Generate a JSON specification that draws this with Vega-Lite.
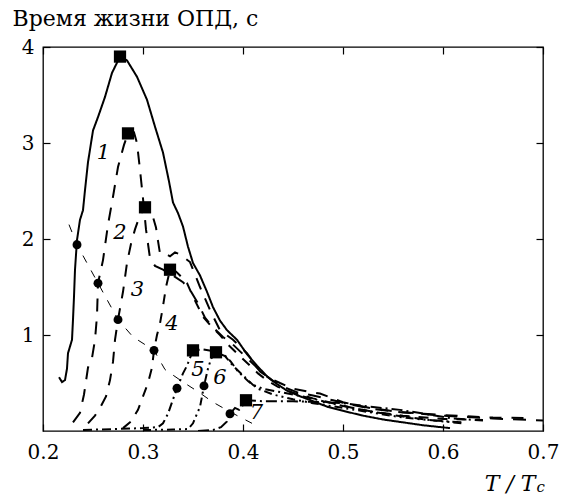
{
  "$schema": "https://vega.github.io/schema/vega-lite/v6.json",
  "width": 500,
  "height": 384,
  "autosize": "none",
  "padding": {"left": 43, "top": 47, "right": 24, "bottom": 66},
  "background": "white",
  "config": {
    "view": {"stroke": "black", "strokeWidth": 1.3},
    "axis": {
      "domain": false, "grid": false, "tickColor": "black", "tickWidth": 1.2, "tickSize": -7,
      "labelFont": "DejaVu Serif", "labelFontSize": 20, "labelColor": "black", "labelFlush": false,
      "titleFont": "DejaVu Serif", "titleColor": "black", "titleFontWeight": "normal"
    }
  },
  "datasets": {
    "curves": [
      {"curve":"1","i":1,"x":0.216,"y":0.56},{"curve":"1","i":2,"x":0.219,"y":0.51},{"curve":"1","i":3,"x":0.222,"y":0.53},{"curve":"1","i":4,"x":0.224,"y":0.65},{"curve":"1","i":5,"x":0.225,"y":0.81},{"curve":"1","i":6,"x":0.229,"y":0.95},{"curve":"1","i":7,"x":0.230,"y":1.16},{"curve":"1","i":8,"x":0.231,"y":1.4},{"curve":"1","i":9,"x":0.232,"y":1.68},{"curve":"1","i":10,"x":0.234,"y":1.99},{"curve":"1","i":11,"x":0.237,"y":2.2},{"curve":"1","i":12,"x":0.240,"y":2.3},{"curve":"1","i":13,"x":0.242,"y":2.51},{"curve":"1","i":14,"x":0.245,"y":2.8},{"curve":"1","i":15,"x":0.250,"y":3.13},{"curve":"1","i":16,"x":0.255,"y":3.27},{"curve":"1","i":17,"x":0.262,"y":3.48},{"curve":"1","i":18,"x":0.269,"y":3.73},{"curve":"1","i":19,"x":0.277,"y":3.90},{"curve":"1","i":20,"x":0.284,"y":3.86},{"curve":"1","i":21,"x":0.294,"y":3.69},{"curve":"1","i":22,"x":0.304,"y":3.45},{"curve":"1","i":23,"x":0.312,"y":3.17},{"curve":"1","i":24,"x":0.320,"y":2.9},{"curve":"1","i":25,"x":0.326,"y":2.6},{"curve":"1","i":26,"x":0.330,"y":2.38},{"curve":"1","i":27,"x":0.335,"y":2.27},{"curve":"1","i":28,"x":0.340,"y":2.13},{"curve":"1","i":29,"x":0.345,"y":1.92},{"curve":"1","i":30,"x":0.350,"y":1.75},{"curve":"1","i":31,"x":0.357,"y":1.62},{"curve":"1","i":32,"x":0.364,"y":1.45},{"curve":"1","i":33,"x":0.370,"y":1.29},{"curve":"1","i":34,"x":0.377,"y":1.15},{"curve":"1","i":35,"x":0.384,"y":1.05},{"curve":"1","i":36,"x":0.394,"y":0.95},{"curve":"1","i":37,"x":0.404,"y":0.80},{"curve":"1","i":38,"x":0.414,"y":0.68},{"curve":"1","i":39,"x":0.424,"y":0.57},{"curve":"1","i":40,"x":0.434,"y":0.49},{"curve":"1","i":41,"x":0.444,"y":0.42},{"curve":"1","i":42,"x":0.455,"y":0.37},{"curve":"1","i":43,"x":0.47,"y":0.31},{"curve":"1","i":44,"x":0.485,"y":0.25},{"curve":"1","i":45,"x":0.50,"y":0.21},{"curve":"1","i":46,"x":0.52,"y":0.16},{"curve":"1","i":47,"x":0.54,"y":0.12},{"curve":"1","i":48,"x":0.56,"y":0.09},{"curve":"1","i":49,"x":0.58,"y":0.06},{"curve":"1","i":50,"x":0.607,"y":0.03},
      {"curve":"2","i":1,"x":0.230,"y":0.09},{"curve":"2","i":2,"x":0.237,"y":0.19},{"curve":"2","i":3,"x":0.241,"y":0.38},{"curve":"2","i":4,"x":0.245,"y":0.66},{"curve":"2","i":5,"x":0.249,"y":0.76},{"curve":"2","i":6,"x":0.252,"y":0.95},{"curve":"2","i":7,"x":0.254,"y":1.2},{"curve":"2","i":8,"x":0.255,"y":1.54},{"curve":"2","i":9,"x":0.260,"y":1.78},{"curve":"2","i":10,"x":0.265,"y":2.15},{"curve":"2","i":11,"x":0.270,"y":2.44},{"curve":"2","i":12,"x":0.275,"y":2.75},{"curve":"2","i":13,"x":0.281,"y":2.98},{"curve":"2","i":14,"x":0.285,"y":3.10},{"curve":"2","i":15,"x":0.291,"y":3.11},{"curve":"2","i":16,"x":0.294,"y":3.0},{"curve":"2","i":17,"x":0.297,"y":2.72},{"curve":"2","i":18,"x":0.300,"y":2.42},{"curve":"2","i":19,"x":0.303,"y":2.1},{"curve":"2","i":20,"x":0.307,"y":1.8},{"curve":"2","i":21,"x":0.312,"y":1.72},{"curve":"2","i":22,"x":0.320,"y":1.68},{"curve":"2","i":23,"x":0.33,"y":1.62},{"curve":"2","i":24,"x":0.34,"y":1.55},{"curve":"2","i":25,"x":0.347,"y":1.47},{"curve":"2","i":26,"x":0.355,"y":1.33},{"curve":"2","i":27,"x":0.362,"y":1.18},{"curve":"2","i":28,"x":0.37,"y":1.08},{"curve":"2","i":29,"x":0.38,"y":0.98},{"curve":"2","i":30,"x":0.39,"y":0.9},{"curve":"2","i":31,"x":0.40,"y":0.8},{"curve":"2","i":32,"x":0.41,"y":0.7},{"curve":"2","i":33,"x":0.42,"y":0.6},{"curve":"2","i":34,"x":0.43,"y":0.52},{"curve":"2","i":35,"x":0.44,"y":0.46},{"curve":"2","i":36,"x":0.455,"y":0.40},{"curve":"2","i":37,"x":0.47,"y":0.37},{"curve":"2","i":38,"x":0.49,"y":0.32},{"curve":"2","i":39,"x":0.51,"y":0.27},{"curve":"2","i":40,"x":0.53,"y":0.23},{"curve":"2","i":41,"x":0.554,"y":0.2},{"curve":"2","i":42,"x":0.60,"y":0.16},{"curve":"2","i":43,"x":0.65,"y":0.13},{"curve":"2","i":44,"x":0.70,"y":0.11},
      {"curve":"3","i":1,"x":0.245,"y":0.08},{"curve":"3","i":2,"x":0.252,"y":0.16},{"curve":"3","i":3,"x":0.258,"y":0.26},{"curve":"3","i":4,"x":0.263,"y":0.36},{"curve":"3","i":5,"x":0.267,"y":0.53},{"curve":"3","i":6,"x":0.270,"y":0.72},{"curve":"3","i":7,"x":0.272,"y":0.95},{"curve":"3","i":8,"x":0.275,"y":1.16},{"curve":"3","i":9,"x":0.280,"y":1.45},{"curve":"3","i":10,"x":0.284,"y":1.75},{"curve":"3","i":11,"x":0.288,"y":1.95},{"curve":"3","i":12,"x":0.292,"y":2.1},{"curve":"3","i":13,"x":0.297,"y":2.25},{"curve":"3","i":14,"x":0.302,"y":2.33},{"curve":"3","i":15,"x":0.308,"y":2.3},{"curve":"3","i":16,"x":0.313,"y":2.12},{"curve":"3","i":17,"x":0.315,"y":1.98},{"curve":"3","i":18,"x":0.317,"y":1.85},{"curve":"3","i":19,"x":0.322,"y":1.85},{"curve":"3","i":20,"x":0.327,"y":1.82},{"curve":"3","i":21,"x":0.332,"y":1.86},{"curve":"3","i":22,"x":0.337,"y":1.84},{"curve":"3","i":23,"x":0.342,"y":1.8},{"curve":"3","i":24,"x":0.347,"y":1.76},{"curve":"3","i":25,"x":0.357,"y":1.5},{"curve":"3","i":26,"x":0.367,"y":1.26},{"curve":"3","i":27,"x":0.377,"y":1.05},{"curve":"3","i":28,"x":0.39,"y":0.95},{"curve":"3","i":29,"x":0.404,"y":0.81},{"curve":"3","i":30,"x":0.417,"y":0.62},{"curve":"3","i":31,"x":0.427,"y":0.55},{"curve":"3","i":32,"x":0.437,"y":0.5},{"curve":"3","i":33,"x":0.45,"y":0.44},{"curve":"3","i":34,"x":0.465,"y":0.41},{"curve":"3","i":35,"x":0.477,"y":0.39},{"curve":"3","i":36,"x":0.50,"y":0.30},{"curve":"3","i":37,"x":0.527,"y":0.24},{"curve":"3","i":38,"x":0.554,"y":0.2},{"curve":"3","i":39,"x":0.60,"y":0.165},{"curve":"3","i":40,"x":0.65,"y":0.14},{"curve":"3","i":41,"x":0.69,"y":0.135},
      {"curve":"4","i":1,"x":0.280,"y":0.03},{"curve":"4","i":2,"x":0.288,"y":0.1},{"curve":"4","i":3,"x":0.295,"y":0.22},{"curve":"4","i":4,"x":0.300,"y":0.36},{"curve":"4","i":5,"x":0.305,"y":0.5},{"curve":"4","i":6,"x":0.309,"y":0.66},{"curve":"4","i":7,"x":0.311,"y":0.84},{"curve":"4","i":8,"x":0.314,"y":1.0},{"curve":"4","i":9,"x":0.317,"y":1.12},{"curve":"4","i":10,"x":0.320,"y":1.3},{"curve":"4","i":11,"x":0.323,"y":1.5},{"curve":"4","i":12,"x":0.327,"y":1.68},{"curve":"4","i":13,"x":0.333,"y":1.66},{"curve":"4","i":14,"x":0.337,"y":1.62},{"curve":"4","i":15,"x":0.344,"y":1.54},{"curve":"4","i":16,"x":0.35,"y":1.4},{"curve":"4","i":17,"x":0.36,"y":1.19},{"curve":"4","i":18,"x":0.37,"y":1.07},{"curve":"4","i":19,"x":0.377,"y":1.0},{"curve":"4","i":20,"x":0.385,"y":0.9},{"curve":"4","i":21,"x":0.395,"y":0.8},{"curve":"4","i":22,"x":0.405,"y":0.7},{"curve":"4","i":23,"x":0.415,"y":0.6},{"curve":"4","i":24,"x":0.425,"y":0.52},{"curve":"4","i":25,"x":0.435,"y":0.46},{"curve":"4","i":26,"x":0.45,"y":0.4},{"curve":"4","i":27,"x":0.47,"y":0.34},{"curve":"4","i":28,"x":0.49,"y":0.29},{"curve":"4","i":29,"x":0.51,"y":0.24},{"curve":"4","i":30,"x":0.53,"y":0.2},{"curve":"4","i":31,"x":0.56,"y":0.16},{"curve":"4","i":32,"x":0.60,"y":0.125},{"curve":"4","i":33,"x":0.64,"y":0.115},
      {"curve":"5","i":1,"x":0.24,"y":0.01},{"curve":"5","i":2,"x":0.27,"y":0.02},{"curve":"5","i":3,"x":0.30,"y":0.03},{"curve":"5","i":4,"x":0.315,"y":0.04},{"curve":"5","i":5,"x":0.32,"y":0.08},{"curve":"5","i":6,"x":0.325,"y":0.18},{"curve":"5","i":7,"x":0.329,"y":0.3},{"curve":"5","i":8,"x":0.334,"y":0.445},{"curve":"5","i":9,"x":0.340,"y":0.6},{"curve":"5","i":10,"x":0.344,"y":0.68},{"curve":"5","i":11,"x":0.350,"y":0.84},{"curve":"5","i":12,"x":0.36,"y":0.85},{"curve":"5","i":13,"x":0.372,"y":0.83},{"curve":"5","i":14,"x":0.382,"y":0.78},{"curve":"5","i":15,"x":0.39,"y":0.68},{"curve":"5","i":16,"x":0.40,"y":0.58},{"curve":"5","i":17,"x":0.41,"y":0.48},{"curve":"5","i":18,"x":0.42,"y":0.44},{"curve":"5","i":19,"x":0.44,"y":0.40},{"curve":"5","i":20,"x":0.46,"y":0.36},{"curve":"5","i":21,"x":0.48,"y":0.31},{"curve":"5","i":22,"x":0.50,"y":0.26},{"curve":"5","i":23,"x":0.53,"y":0.2},{"curve":"5","i":24,"x":0.56,"y":0.15},{"curve":"5","i":25,"x":0.59,"y":0.11},{"curve":"5","i":26,"x":0.62,"y":0.09},
      {"curve":"6","i":1,"x":0.30,"y":0.01},{"curve":"6","i":2,"x":0.33,"y":0.015},{"curve":"6","i":3,"x":0.345,"y":0.02},{"curve":"6","i":4,"x":0.35,"y":0.08},{"curve":"6","i":5,"x":0.354,"y":0.18},{"curve":"6","i":6,"x":0.357,"y":0.25},{"curve":"6","i":7,"x":0.361,"y":0.47},{"curve":"6","i":8,"x":0.365,"y":0.65},{"curve":"6","i":9,"x":0.368,"y":0.75},{"curve":"6","i":10,"x":0.373,"y":0.82},{"curve":"6","i":11,"x":0.38,"y":0.81},{"curve":"6","i":12,"x":0.388,"y":0.72},{"curve":"6","i":13,"x":0.395,"y":0.62},{"curve":"6","i":14,"x":0.405,"y":0.52},{"curve":"6","i":15,"x":0.415,"y":0.44},{"curve":"6","i":16,"x":0.43,"y":0.38},{"curve":"6","i":17,"x":0.45,"y":0.33},{"curve":"6","i":18,"x":0.47,"y":0.29},{"curve":"6","i":19,"x":0.50,"y":0.24},{"curve":"6","i":20,"x":0.53,"y":0.19},{"curve":"6","i":21,"x":0.56,"y":0.14},{"curve":"6","i":22,"x":0.60,"y":0.1},{"curve":"6","i":23,"x":0.62,"y":0.08},
      {"curve":"7","i":1,"x":0.355,"y":0.0},{"curve":"7","i":2,"x":0.37,"y":0.01},{"curve":"7","i":3,"x":0.378,"y":0.04},{"curve":"7","i":4,"x":0.384,"y":0.1},{"curve":"7","i":5,"x":0.387,"y":0.18},{"curve":"7","i":6,"x":0.392,"y":0.24},{"curve":"7","i":7,"x":0.396,"y":0.22},{"curve":"7","i":8,"x":0.40,"y":0.27},{"curve":"7","i":9,"x":0.403,"y":0.32},{"curve":"7","i":10,"x":0.42,"y":0.31},{"curve":"7","i":11,"x":0.45,"y":0.31},{"curve":"7","i":12,"x":0.48,"y":0.30},{"curve":"7","i":13,"x":0.50,"y":0.29},{"curve":"7","i":14,"x":0.53,"y":0.25},{"curve":"7","i":15,"x":0.557,"y":0.22},{"curve":"7","i":16,"x":0.587,"y":0.17},{"curve":"7","i":17,"x":0.61,"y":0.13},{"curve":"7","i":18,"x":0.64,"y":0.11}
    ],
    "guide": [
      {"i":1,"x":0.226,"y":2.15},{"i":2,"x":0.234,"y":1.94},{"i":3,"x":0.255,"y":1.54},{"i":4,"x":0.275,"y":1.16},{"i":5,"x":0.29,"y":0.98},{"i":6,"x":0.311,"y":0.84},{"i":7,"x":0.322,"y":0.64},{"i":8,"x":0.34,"y":0.51},{"i":9,"x":0.355,"y":0.41},{"i":10,"x":0.37,"y":0.3},{"i":11,"x":0.387,"y":0.2},{"i":12,"x":0.409,"y":0.08}
    ],
    "squares": [
      {"x":0.277,"y":3.90},{"x":0.285,"y":3.10},{"x":0.302,"y":2.33},{"x":0.327,"y":1.68},{"x":0.350,"y":0.84},{"x":0.373,"y":0.82},{"x":0.403,"y":0.32}
    ],
    "circles": [
      {"x":0.234,"y":1.94},{"x":0.255,"y":1.54},{"x":0.275,"y":1.16},{"x":0.311,"y":0.84},{"x":0.334,"y":0.445},{"x":0.361,"y":0.47},{"x":0.387,"y":0.18}
    ],
    "labels": [
      {"label":"1","x":0.2605,"y":2.90},{"label":"2","x":0.277,"y":2.06},{"label":"3","x":0.2945,"y":1.47},{"label":"4","x":0.329,"y":1.11},{"label":"5","x":0.355,"y":0.64},{"label":"6","x":0.377,"y":0.55},{"label":"7","x":0.4135,"y":0.19}
    ],
    "sub": [{"t":"c","x":0.6978,"y":-0.64}]
  },
  "resolve": {"axis": {"x": "independent", "y": "independent"}},
  "layer": [
    {
      "data": {"name": "curves"},
      "mark": {"type": "line", "color": "black", "strokeWidth": 2, "clip": true},
      "encoding": {
        "x": {"field": "x", "type": "quantitative", "scale": {"domain": [0.2, 0.7], "nice": false, "zero": false},
              "axis": {"orient": "bottom", "values": [0.2,0.3,0.4,0.5,0.6,0.7], "format": ".1f", "labelPadding": 18,
                       "title": "T / T", "titleFontStyle": "italic", "titleFontSize": 22, "titleAlign": "right", "titleAnchor": null, "titleX": 492, "titleY": 59, "titleBaseline": "alphabetic"}},
        "y": {"field": "y", "type": "quantitative", "scale": {"domain": [0, 4], "nice": false, "zero": false},
              "axis": {"orient": "left", "values": [1,2,3,4], "format": "d", "labelPadding": 16,
                       "title": "Время жизни ОПД, с", "titleAngle": 0, "titleAlign": "left", "titleBaseline": "alphabetic", "titleAnchor": null, "titleX": -31, "titleY": -22, "titleFontSize": 22}},
        "detail": {"field": "curve"},
        "order": {"field": "i", "type": "quantitative"},
        "strokeDash": {"field": "curve", "type": "nominal", "legend": null,
          "scale": {"domain": ["1","2","3","4","5","6","7"], "range": [[1,0],[13,10],[12,10],[10,9],[9,4,2,4],[8,4,2,4,2,4],[11,4,2,4]]}}
      }
    },
    {
      "data": {"name": "guide"},
      "mark": {"type": "line", "color": "black", "strokeWidth": 1, "strokeDash": [8,9]},
      "encoding": {
        "x": {"field": "x", "type": "quantitative", "scale": {"domain": [0.2, 0.7], "nice": false, "zero": false},
              "axis": {"orient": "top", "values": [0.2,0.3,0.4,0.5,0.6,0.7], "labels": false, "title": null}},
        "y": {"field": "y", "type": "quantitative", "scale": {"domain": [0, 4], "nice": false, "zero": false},
              "axis": {"orient": "right", "values": [1,2,3,4], "labels": false, "title": null}},
        "order": {"field": "i", "type": "quantitative"}
      }
    },
    {
      "data": {"name": "squares"},
      "mark": {"type": "point", "shape": "square", "filled": true, "color": "black", "size": 150, "opacity": 1},
      "encoding": {
        "x": {"field": "x", "type": "quantitative", "axis": null},
        "y": {"field": "y", "type": "quantitative", "axis": null}
      }
    },
    {
      "data": {"name": "circles"},
      "mark": {"type": "point", "shape": "circle", "filled": true, "color": "black", "size": 80, "opacity": 1},
      "encoding": {
        "x": {"field": "x", "type": "quantitative", "axis": null},
        "y": {"field": "y", "type": "quantitative", "axis": null}
      }
    },
    {
      "data": {"name": "labels"},
      "mark": {"type": "text", "font": "DejaVu Serif", "fontStyle": "italic", "fontSize": 21, "color": "black", "align": "center", "baseline": "middle"},
      "encoding": {
        "x": {"field": "x", "type": "quantitative", "axis": null},
        "y": {"field": "y", "type": "quantitative", "axis": null},
        "text": {"field": "label"}
      }
    },
    {
      "data": {"name": "sub"},
      "mark": {"type": "text", "font": "DejaVu Serif", "fontStyle": "italic", "fontSize": 15, "color": "black", "align": "center", "baseline": "alphabetic", "clip": false},
      "encoding": {
        "x": {"field": "x", "type": "quantitative", "axis": null},
        "y": {"field": "y", "type": "quantitative", "axis": null},
        "text": {"field": "t"}
      }
    }
  ]
}
